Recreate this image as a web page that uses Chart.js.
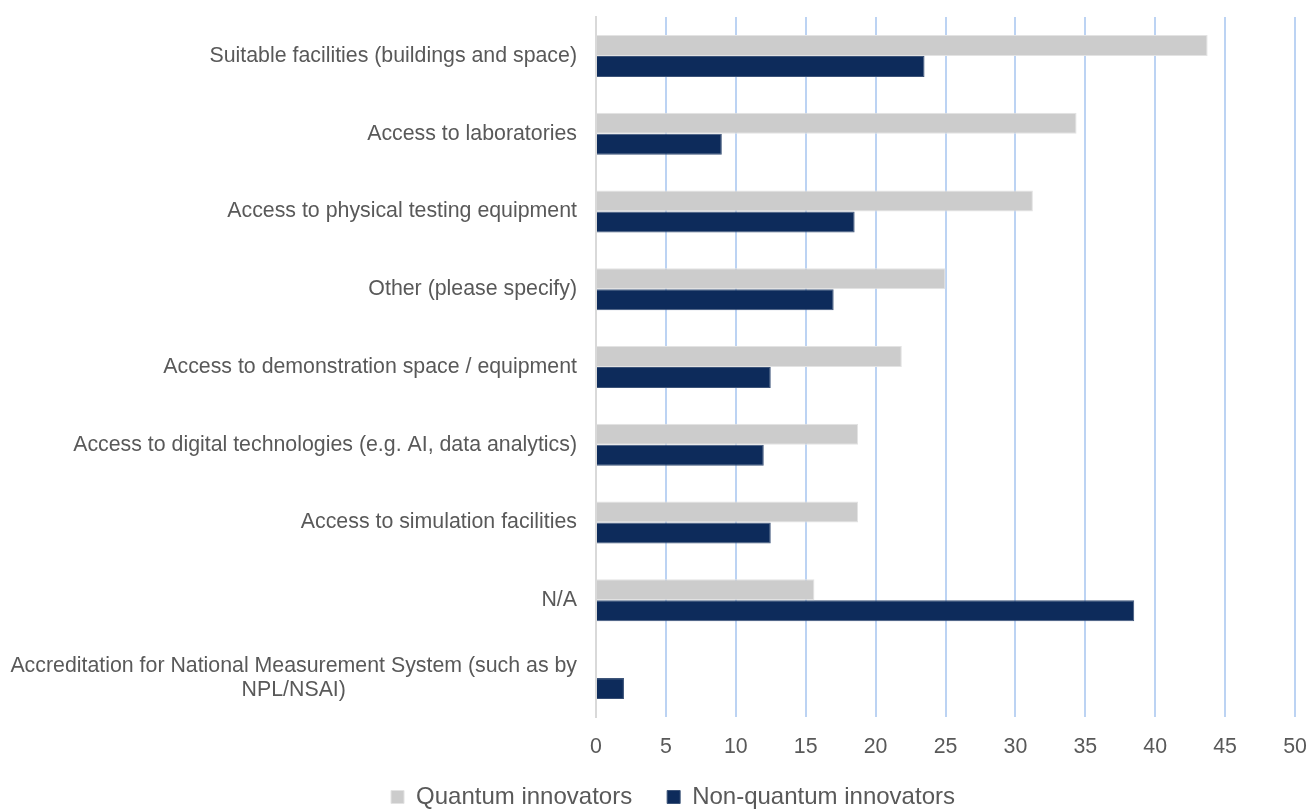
<!DOCTYPE html>
<html>
<head>
<meta charset="utf-8">
<script src="https://cdn.jsdelivr.net/npm/chart.js@4.4.1/dist/chart.umd.min.js"></script>
<style>
    html, body { margin: 0; padding: 0; background: #ffffff; }
    #wrap { width: 1310px; height: 810px; }
</style>
</head>
<body>
<div id="wrap"><canvas id="chart"></canvas></div>
<script>
const categories = [
    "Suitable facilities (buildings and space)",
    "Access to laboratories",
    "Access to physical testing equipment",
    "Other (please specify)",
    "Access to demonstration space / equipment",
    "Access to digital technologies (e.g. AI, data analytics)",
    "Access to simulation facilities",
    "N/A",
    ["Accreditation for National Measurement System (such as by", "NPL/NSAI)"],
];

const quantum = [43.75, 34.375, 31.25, 25, 21.875, 18.75, 18.75, 15.625, 0];
const nonQuantum = [23.5, 9, 18.5, 17, 12.5, 12, 12.5, 38.5, 2];

const seriesNames = ["Quantum innovators", "Non-quantum innovators"];
const xTicks = [0, 5, 10, 15, 20, 25, 30, 35, 40, 45, 50];

const FONT = '"Liberation Sans", Arial, sans-serif';
const TEXT = "#595959";

// centre the shorter lines of a wrapped label under the longest one
const measureCtx = document.createElement("canvas").getContext("2d");
measureCtx.font = "21.33px " + FONT;
const spaceW = measureCtx.measureText(" ").width;

function centreLines(label) {
    if (!Array.isArray(label)) return label;
    const widths = label.map((l) => measureCtx.measureText(l).width);
    const widest = Math.max(...widths);
    return label.map((l, i) => l + " ".repeat(Math.round((widest - widths[i]) / 2 / spaceW)));
}

// legend sits a little right of centre and close under the axis in the original
const legendShift = {
    id: "legendShift",
    afterLayout(c) {
        c.legend.left += 51;
        c.legend.top -= 12;
        c.legend.bottom -= 12;
    },
};

const chart = document.querySelector("#chart").getContext("2d");

new Chart(chart, {
    type: "bar",
    data: {
        labels: categories,
        datasets: [
            {
                label: seriesNames[0],
                data: quantum,
                backgroundColor: "#cccccc",
                borderColor: "#e3e3e3",
                borderWidth: 1,
            },
            {
                label: seriesNames[1],
                data: nonQuantum,
                backgroundColor: "#0d2b5b",
                borderColor: "#3d5479",
                borderWidth: 1,
            },
        ],
    },
    plugins: [legendShift],
    options: {
        indexAxis: "y",
        responsive: true,
        maintainAspectRatio: false,
        animation: false,
        categoryPercentage: 0.54,
        barPercentage: 1.0,
        layout: {
            padding: { left: 0, right: 15, top: 17, bottom: -21 },
        },
        plugins: {
            tooltip: { enabled: false },
            legend: {
                position: "bottom",
                labels: {
                    boxWidth: 13,
                    boxHeight: 13,
                    padding: 35,
                    color: TEXT,
                    font: { family: FONT, size: 24 },
                },
            },
        },
        scales: {
            x: {
                min: 0,
                max: 50,
                afterBuildTicks: (scale) => {
                    scale.ticks = xTicks.map((v) => ({ value: v }));
                },
                afterFit: (scale) => {
                    scale.height = 45;
                    scale.paddingLeft = 0;
                    scale.paddingRight = 0;
                },
                border: { display: false },
                grid: {
                    drawTicks: false,
                    lineWidth: 2,
                    color: (ctx) => (ctx.tick && ctx.tick.value === 0 ? "#d9d9d9" : "#bcd3f3"),
                },
                ticks: {
                    padding: 17,
                    color: TEXT,
                    font: { family: FONT, size: 21.33 },
                },
            },
            y: {
                afterFit: (scale) => {
                    scale.width = 596;
                    scale.paddingTop = 0;
                    scale.paddingBottom = 0;
                },
                border: { display: true, color: "#d9d9d9", width: 2 },
                grid: { display: false, drawTicks: false },
                ticks: {
                    padding: 19,
                    color: TEXT,
                    font: { family: FONT, size: 21.33, lineHeight: 1.15 },
                    callback: function (value) {
                        return centreLines(this.getLabelForValue(value));
                    },
                },
            },
        },
    },
});
</script>
</body>
</html>
